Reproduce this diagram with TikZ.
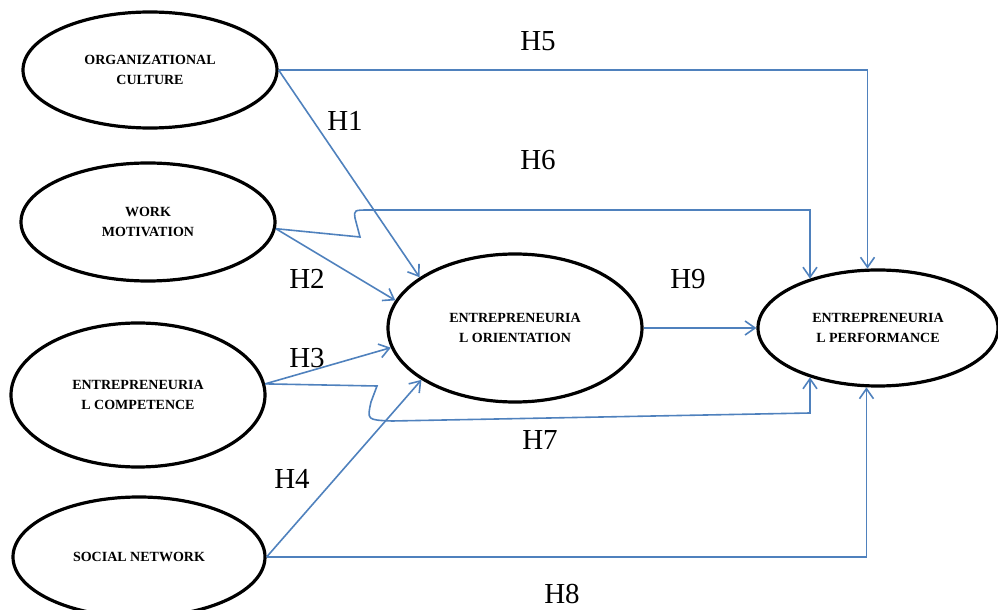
\documentclass[tikz,border=0pt]{standalone}
\usepackage{fontspec}
\setmainfont{Liberation Serif}
\usepackage{tikz}
\usetikzlibrary{arrows.meta,positioning,shapes.geometric,calc}
\definecolor{linkblue}{HTML}{4F81BD}

\begin{document}
\begin{tikzpicture}[
  x=0.5pt, y=-0.5pt,
  construct/.style={draw, ellipse, line width=1.6pt, align=center, inner sep=0pt,
    font=\fontsize{7}{10}\selectfont\bfseries},
  hyp/.style={font=\fontsize{14.5}{17}\selectfont},
  link/.style={-{Straight Barb[length=5pt,width=7pt]}, linkblue, line width=0.8pt},
]
\useasboundingbox (0,0) rectangle (998,610);

% constructs
\node[construct, minimum width=127pt, minimum height=58pt] (oc) at (150,70) {ORGANIZATIONAL\\CULTURE};
\node[construct, minimum width=127pt, minimum height=59pt] (wm) at (148,222) {WORK\\MOTIVATION};
\node[construct, minimum width=127pt, minimum height=72pt] (ec) at (138,395) {ENTREPRENEURIA\\L COMPETENCE};
\node[construct, minimum width=126pt, minimum height=60pt] (sn) at (139,557) {SOCIAL NETWORK};
\node[construct, minimum width=127pt, minimum height=74pt] (eo) at (515,328) {ENTREPRENEURIA\\L ORIENTATION};
\node[construct, minimum width=120pt, minimum height=58pt] (ep) at (878,328) {ENTREPRENEURIA\\L PERFORMANCE};

% hypotheses
\draw[link] (oc.east) -| (ep.100);
\draw[link] (oc.east) -- (eo.152);
\draw[link] (wm.-3) -- (360,237) -- (355,218) .. controls (354,210) .. (370,210) -| (ep.144);
\draw[link] (wm.-3) -- (eo.167);
\draw[link] (eo.east) -- (ep.west);
\draw[link] (ec.5) -- (eo.189);
\draw[link] (ec.5) -- (377,386) -- (371,402) .. controls (367,420) .. (392,421) -- (ep.216 |- 0,413) -- (ep.216);
\draw[link] (sn.east) -- (eo.209);
\draw[link] (sn.east) -| (ep.259);

\node[hyp] (h5) at (538,41) {H5};
\node[hyp] (h1) at (345,121) {H1};
\node[hyp] (h6) at (538,160) {H6};
\node[hyp] (h2) at (307,279) {H2};
\node[hyp] (h9) at (688,279) {H9};
\node[hyp] (h3) at (307,358) {H3};
\node[hyp] (h7) at (540,440) {H7};
\node[hyp] (h4) at (292,479) {H4};
\node[hyp] (h8) at (562,594) {H8};
\end{tikzpicture}
\end{document}
